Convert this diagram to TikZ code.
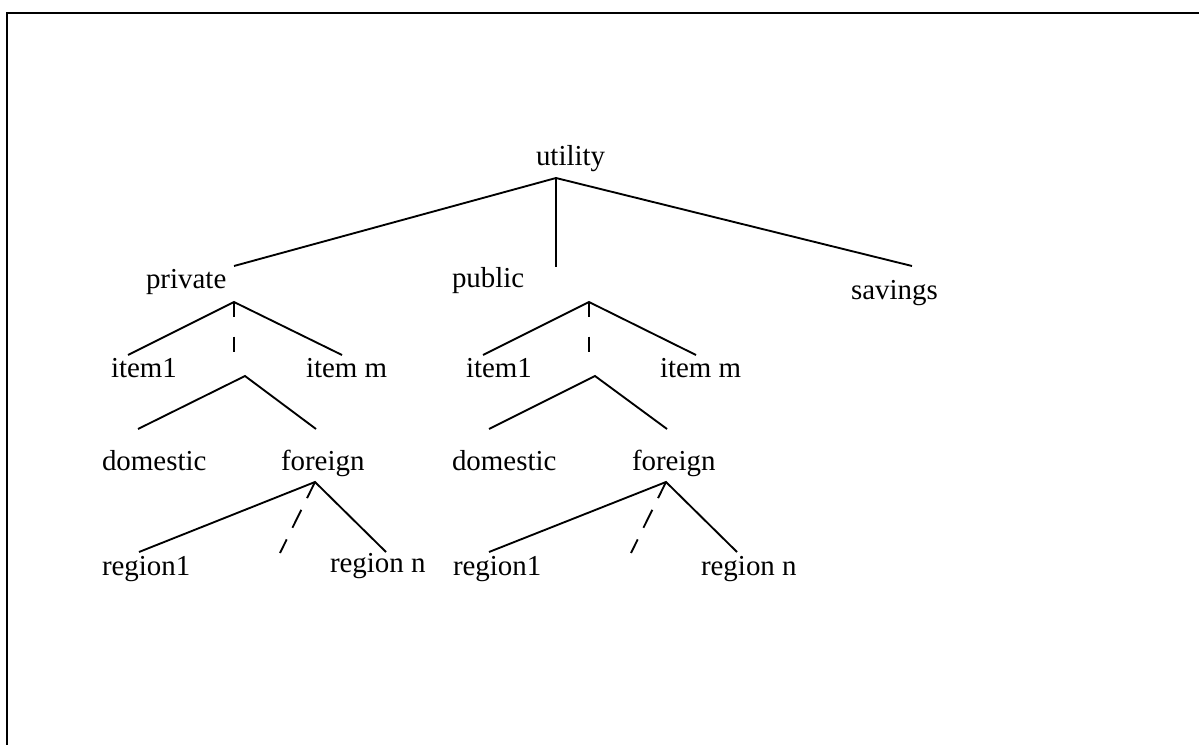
\documentclass[tikz,border=0pt]{standalone}
\usepackage{fontspec}
\setmainfont{Liberation Serif}
\begin{document}
\begin{tikzpicture}[x=0.75pt,y=-0.75pt,
  lbl/.style={anchor=base west,inner sep=0pt,outer sep=0pt,font=\fontsize{21.7pt}{25pt}\selectfont},
  edge/.style={line width=1.4pt,line cap=butt},
  vdots/.style={edge,dash pattern=on 11.5pt off 14.5pt},
  sdots/.style={edge,dash pattern=on 15pt off 9.75pt,dash phase=1.5pt}]
\useasboundingbox (0,0) rectangle (1199,745);
\clip (0,0) rectangle (1199,745);
\draw[line width=1.5pt] (7,760) -- (7,13) -- (1220,13);
% labels
\node[lbl] (utility) at (536,166) {utility};
\node[lbl] (private) at (146,288) {private};
\node[lbl] (public) at (452,287) {public};
\node[lbl] (savings) at (851,300) {savings};
\node[lbl] (item1a) at (111,377) {item1};
\node[lbl] (itemma) at (306,377) {item m};
\node[lbl] (item1b) at (466,377) {item1};
\node[lbl] (itemmb) at (660,377) {item m};
\node[lbl] (doma) at (102,470) {domestic};
\node[lbl] (fora) at (281,470) {foreign};
\node[lbl] (domb) at (452,470) {domestic};
\node[lbl] (forb) at (632,470) {foreign};
\node[lbl] (reg1a) at (102,575) {region1};
\node[lbl] (regna) at (330,572) {region n};
\node[lbl] (reg1b) at (453,575) {region1};
\node[lbl] (regnb) at (701,575) {region n};
% junction points
\coordinate (u0) at (556,178);
\coordinate (uL) at (234,266);
\coordinate (uM) at (556,267);
\coordinate (uR) at (912,266);
\coordinate (pa) at (234,302);
\coordinate (paL) at (128,355);
\coordinate (paR) at (342,355);
\coordinate (paD) at (234,354);
\coordinate (pb) at (245,376);
\coordinate (pbL) at (138,429);
\coordinate (pbR) at (316,429);
\coordinate (pc) at (315,482);
\coordinate (pcL) at (139,552);
\coordinate (pcR) at (386,552);
\coordinate (pcD) at (280,553);
\coordinate (qa) at (589,302);
\coordinate (qaL) at (483,355);
\coordinate (qaR) at (696,355);
\coordinate (qaD) at (589,354);
\coordinate (qb) at (595,376);
\coordinate (qbL) at (489,429);
\coordinate (qbR) at (667,429);
\coordinate (qc) at (666,482);
\coordinate (qcL) at (489,552);
\coordinate (qcR) at (737,552);
\coordinate (qcD) at (631,553);
% connectors
\draw[edge] (uL) -- (u0) -- (uR);
\draw[edge] (u0) -- (uM);
\draw[edge] (paL) -- (pa) -- (paR);
\draw[vdots] (pa) -- (paD);
\draw[edge] (pbL) -- (pb) -- (pbR);
\draw[edge] (pcL) -- (pc) -- (pcR);
\draw[sdots] (pc) -- (pcD);
\draw[edge] (qaL) -- (qa) -- (qaR);
\draw[vdots] (qa) -- (qaD);
\draw[edge] (qbL) -- (qb) -- (qbR);
\draw[edge] (qcL) -- (qc) -- (qcR);
\draw[sdots] (qc) -- (qcD);
\end{tikzpicture}
\end{document}
